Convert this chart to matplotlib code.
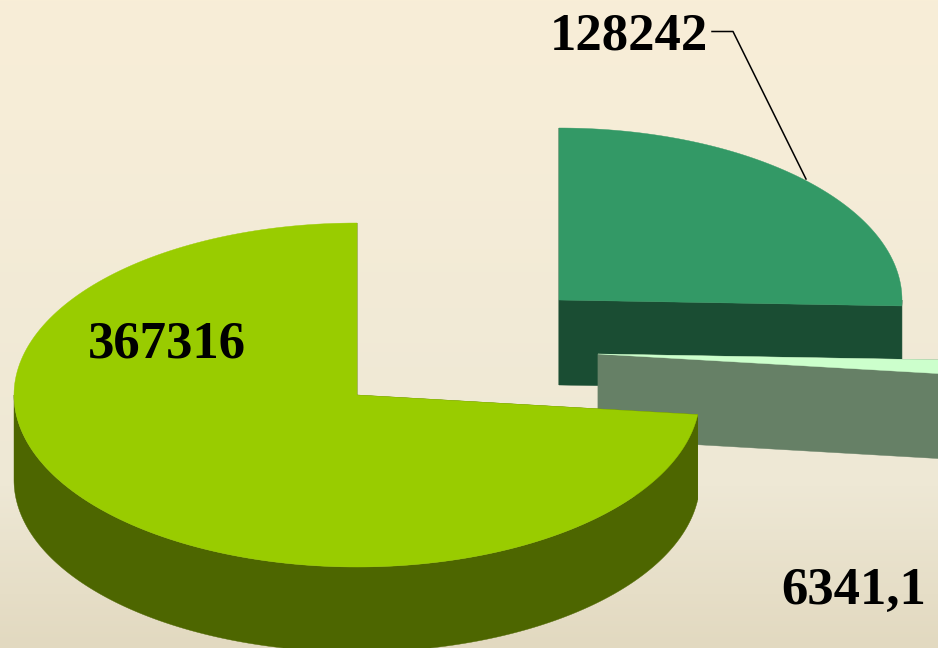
import numpy as np
import matplotlib
matplotlib.use("Agg")
import matplotlib.pyplot as plt
from matplotlib.patches import Polygon

# chart data
labels = ["128242", "6341,1", "367316"]
values = [128242, 6341.1, 367316]

top_colors = ["#339966", "#CCFFCC", "#99CC00"]
side_colors = ["#1A4D33", "#668066", "#4D6600"]

# exploded slice centres in pixels, ellipse radii and height of the 3d pie
centers = [(559, 300), (598, 354), (357, 395)]
rx, ry = 343, 172
depth = 85


def arc(center, a0, a1):
    # points along the pie rim, angles in degrees
    t = np.radians(np.linspace(a0, a1, 200))
    return np.column_stack([center[0] + rx * np.cos(t), center[1] - ry * np.sin(t)])


def draw_slice(ax, center, a0, a1, top, side, z):
    # a0 > a1, going clockwise from a0
    down = np.array([0, depth])
    c = np.array(center, dtype=float)

    # outer wall, only the part on the front half of the ellipse
    f0, f1 = min(a0, 0), max(a1, -180)
    if f0 > f1:
        fr = arc(center, f0, f1)
        ax.add_patch(Polygon(np.vstack([fr, fr[::-1] + down]), fc=side, ec=side, lw=0.3, zorder=z))

    # cut walls on both edges of the slice
    for a in (a0, a1):
        p = arc(center, a, a)[0]
        ax.add_patch(Polygon([c, p, p + down, c + down], fc=side, ec=side, lw=0.3, zorder=z))

    rim = arc(center, a0, a1)
    ax.add_patch(Polygon(np.vstack([c, rim]), fc=top, ec=top, lw=0.3, zorder=z + 0.5))


fig = plt.figure(figsize=(9.38, 6.48), dpi=100)
ax = fig.add_axes([0, 0, 1, 1])

# background fade
stops_y = [0, 0.2, 0.75, 1]
stops_rgb = np.array([[248, 238, 215], [246, 237, 216], [238, 232, 213], [226, 217, 192]]) / 255
yy = np.linspace(0, 1, 648)
grad = np.column_stack([np.interp(yy, stops_y, stops_rgb[:, i]) for i in range(3)])
ax.imshow(grad[:, None, :], extent=[0, 938, 648, 0], aspect="auto", zorder=0)

# slices run clockwise from 12 o'clock
angle = 90.0
total = sum(values)
for i in range(len(values)):
    sweep = values[i] / total * 360
    draw_slice(ax, centers[i], angle, angle - sweep, top_colors[i], side_colors[i], 2 + i)
    angle -= sweep

ax.set_xlim(0, 938)
ax.set_ylim(648, 0)
ax.axis("off")

font = dict(family="Liberation Serif", fontweight="bold", fontsize=38, color="black", zorder=10)
ax.text(550, 50, labels[0], ha="left", va="baseline", **font)
ax.text(781, 604, labels[1], ha="left", va="baseline", **font)
ax.text(88, 358, labels[2], ha="left", va="baseline", **font)

# leader line for the first label
ax.plot([712, 733, 806], [31.5, 31.5, 179], color="black", lw=1.1, zorder=10)

fig.savefig("out.png", dpi=100)
